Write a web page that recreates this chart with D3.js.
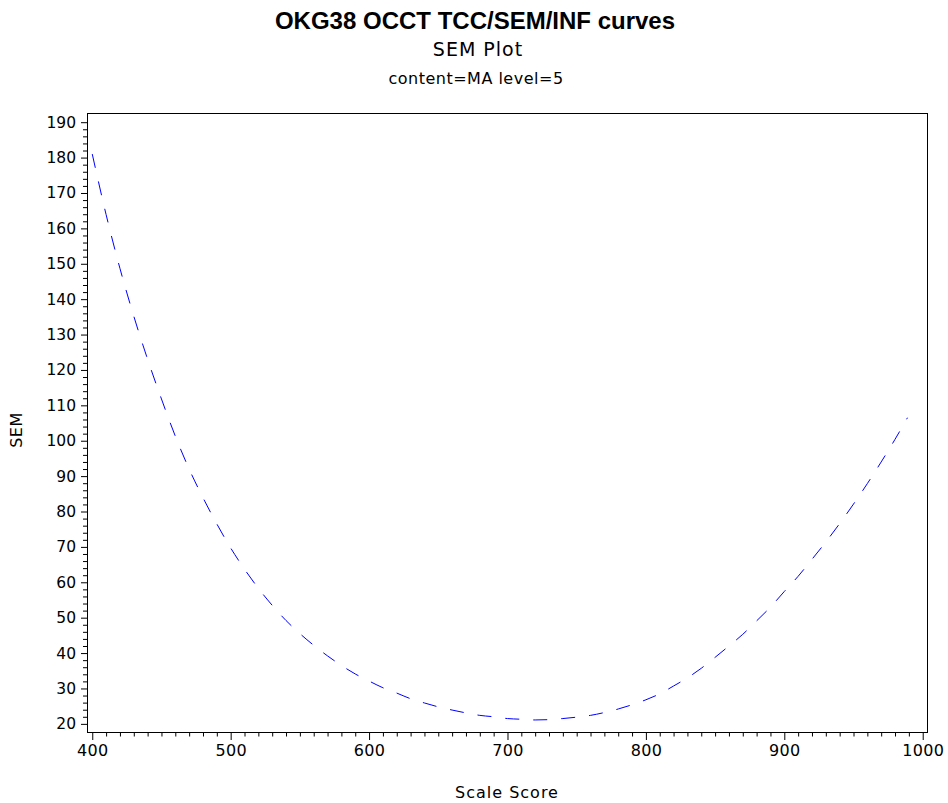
<!DOCTYPE html>
<html>
<head>
<meta charset="utf-8">
<script src="https://cdn.jsdelivr.net/npm/d3@7"></script>
<style>
  html, body { margin: 0; padding: 0; background: #fff; }
  svg { display: block; }
  text { fill: #000; }
</style>
</head>
<body>
<svg id="chart" width="948" height="803"></svg>
<script>
// Scale score grid and standard error of measurement at each score
const scaleScores = [400, 410, 420, 430, 440, 450, 460, 470, 480, 490,
                     500, 510, 520, 530, 540, 550, 560, 570, 580, 590,
                     600, 610, 620, 630, 640, 650, 660, 670, 680, 690,
                     700, 710, 720, 730, 740, 750, 760, 770, 780, 790,
                     800, 810, 820, 830, 840, 850, 860, 870, 880, 890,
                     900, 910, 920, 930, 940, 950, 960, 970, 980, 989];
const semValues = [181.0, 163.9, 148.7, 135.2, 123.0, 111.8, 101.3, 92.0, 83.9, 76.5,
                   69.7, 63.7, 58.3, 53.5, 49.2, 45.5, 42.2, 39.2, 36.5, 34.1,
                   32.1, 30.2, 28.7, 27.1, 25.9, 24.8, 23.9, 23.1, 22.4, 22.0,
                   21.5, 21.3, 21.1, 21.2, 21.5, 21.9, 22.4, 23.2, 24.2, 25.4,
                   26.8, 28.5, 30.7, 33.0, 35.7, 38.8, 42.0, 45.3, 49.1, 53.0,
                   57.4, 61.7, 66.5, 71.4, 76.6, 82.1, 87.9, 94.0, 100.4, 106.5];

const xTickValues = [400, 500, 600, 700, 800, 900, 1000];
const yTickValues = [20, 30, 40, 50, 60, 70, 80, 90, 100, 110, 120, 130, 140, 150, 160, 170, 180, 190];

const titleText = "OKG38 OCCT TCC/SEM/INF curves";
const subtitleText = "SEM Plot";
const subtitle2Text = "content=MA level=5";
const xTitle = "Scale Score";
const yTitle = "SEM";

const svg = d3.select("#chart");
const plot = { left: 87, right: 927, top: 113, bottom: 732 };
const axisFont = "'DejaVu Sans', sans-serif";

const x = d3.scaleLinear().domain([396.2, 1003.1]).range([plot.left, plot.right]);
const y = d3.scaleLinear().domain([17.7, 192.6]).range([plot.bottom, plot.top]);

// Minor ticks
const xMinor = d3.range(400, 1001, 10).filter(v => v % 100 !== 0);
const yMinor = d3.range(20, 191, 2).filter(v => v % 10 !== 0);

const gx = svg.append("g").attr("transform", `translate(0,${plot.bottom})`);
gx.call(d3.axisBottom(x).tickValues(xMinor).tickSize(4.5).tickFormat(""));
gx.call(g => g.select(".domain").remove());
const gxMajor = svg.append("g").attr("transform", `translate(0,${plot.bottom})`);
gxMajor.call(d3.axisBottom(x).tickValues(xTickValues).tickSize(8).tickPadding(5).tickFormat(d3.format("d")));
gxMajor.call(g => g.select(".domain").remove());
gxMajor.selectAll("text").attr("font-family", axisFont).attr("font-size", 16)
  .attr("letter-spacing", 0.3).attr("fill", "#000");

const gy = svg.append("g").attr("transform", `translate(${plot.left},0)`);
gy.call(d3.axisLeft(y).tickValues(yMinor).tickSize(4).tickFormat(""));
gy.call(g => g.select(".domain").remove());
const gyMajor = svg.append("g").attr("transform", `translate(${plot.left},0)`);
gyMajor.call(d3.axisLeft(y).tickValues(yTickValues).tickSize(6).tickPadding(5).tickFormat(d3.format("d")));
gyMajor.call(g => g.select(".domain").remove());
gyMajor.selectAll("text").attr("font-family", axisFont).attr("font-size", 15.5).attr("fill", "#000");

svg.selectAll(".tick line").attr("stroke", "#000").attr("stroke-width", 1);

// Plot frame
svg.append("rect")
  .attr("x", plot.left + 0.5).attr("y", plot.top + 0.5)
  .attr("width", plot.right - plot.left).attr("height", plot.bottom - plot.top)
  .attr("fill", "none").attr("stroke", "#000").attr("stroke-width", 1);

// SEM curve
const pts = scaleScores.map((s, i) => [s, semValues[i]]);
const line = d3.line().x(d => x(d[0])).y(d => y(d[1])).curve(d3.curveMonotoneX);
svg.append("path")
  .datum(pts)
  .attr("d", line)
  .attr("fill", "none")
  .attr("stroke", "#0000ff")
  .attr("stroke-width", 1)
  .attr("stroke-dasharray", "14 14");

// Titles
svg.append("text").attr("x", 475).attr("y", 29).attr("text-anchor", "middle")
  .attr("font-family", "'Liberation Sans', Arial, sans-serif").attr("font-weight", "bold")
  .attr("font-size", 24).text(titleText);
svg.append("text").attr("x", 478).attr("y", 56).attr("text-anchor", "middle")
  .attr("font-family", axisFont).attr("font-size", 19).attr("letter-spacing", 1).text(subtitleText);
svg.append("text").attr("x", 476).attr("y", 84).attr("text-anchor", "middle")
  .attr("font-family", axisFont).attr("font-size", 16).attr("letter-spacing", 0.5).text(subtitle2Text);

// Axis titles
svg.append("text").attr("x", 507).attr("y", 798).attr("text-anchor", "middle")
  .attr("font-family", axisFont).attr("font-size", 16).attr("letter-spacing", 1).text(xTitle);
svg.append("text").attr("transform", "translate(22,430) rotate(-90)").attr("text-anchor", "middle")
  .attr("font-family", axisFont).attr("font-size", 16).attr("letter-spacing", 0.5).text(yTitle);
</script>
</body>
</html>
